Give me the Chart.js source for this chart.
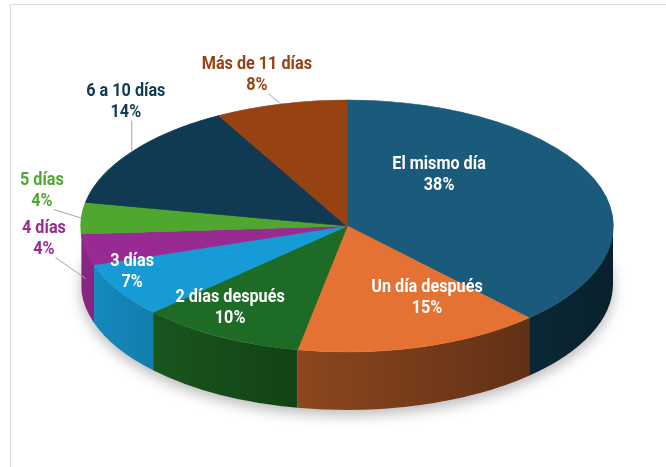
<!DOCTYPE html>
<html>
<head>
<meta charset="utf-8">
<script src="https://cdn.jsdelivr.net/npm/chart.js@4.4.1/dist/chart.umd.min.js"></script>
<style>
  html, body { margin: 0; padding: 0; background: #fff; }
  #wrap { width: 666px; height: 467px; }
</style>
</head>
<body>
<div id="wrap"><canvas id="myChart" width="666" height="467"></canvas></div>
<script>
// valores
var categories = ['El mismo día', 'Un día después', '2 días después', '3 días', '4 días', '5 días', '6 a 10 días', 'Más de 11 días'];
var shares = [38, 15, 10, 7, 4, 4, 14, 8];
var sliceColors = ['#1a5b7c', '#e47232', '#1e6b25', '#179bd6', '#982a92', '#4fa72f', '#0f3a52', '#974213'];

// dónde va cada etiqueta: [radio relativo, giro en grados]
var labelSpots = [[0.533, -27.9], [0.649, -11.4], [0.786, 5.2], [0.888, 6.1], [1.144, 5.6], [1.18, 10], [1.288, 13.8], [1.245, -1.4]];

var RX = 266, RY = 126, DEPTH = 58;
var FONT = 'bold 18px "Roboto", "Liberation Sans", sans-serif';
var SQUEEZE = 0.9;

function shade(hex, f) {
  var n = parseInt(hex.slice(1), 16);
  var r = Math.round(((n >> 16) & 255) * f);
  var g = Math.round(((n >> 8) & 255) * f);
  var b = Math.round((n & 255) * f);
  return 'rgb(' + r + ',' + g + ',' + b + ')';
}

function drawText(ctx, t, x, y) {
  ctx.save();
  ctx.translate(x, y);
  ctx.scale(SQUEEZE, 1);
  ctx.fillText(t, 0, 0);
  ctx.restore();
}

var pie3d = {
  id: 'pie3d',
  beforeDraw: function(chart) {
    var ctx = chart.ctx;
    ctx.save();
    ctx.fillStyle = '#fff';
    ctx.fillRect(0, 0, chart.width, chart.height);
    ctx.strokeStyle = '#dcdcdc';
    ctx.lineWidth = 1;
    ctx.beginPath();
    ctx.moveTo(10.5, chart.height);
    ctx.lineTo(10.5, 4.5);
    ctx.lineTo(chart.width, 4.5);
    ctx.stroke();
    ctx.restore();
  },
  beforeDatasetsDraw: function(chart) {
    var ctx = chart.ctx;
    var arcs = chart.getDatasetMeta(0).data;
    var cx = arcs[0].x, cy = arcs[0].y, r = arcs[0].outerRadius;
    var sx = RX / r, sy = RY / r;

    // sombra
    ctx.save();
    ctx.shadowColor = 'rgba(0,0,0,0.28)';
    ctx.shadowBlur = 14;
    ctx.shadowOffsetY = 5;
    ctx.fillStyle = '#fff';
    ctx.beginPath();
    ctx.ellipse(cx, cy + DEPTH, RX, RY, 0, 0, Math.PI * 2);
    ctx.fill();
    ctx.restore();

    // paredes laterales
    arcs.forEach(function(arc, i) {
      var a0 = Math.max(arc.startAngle, 0);
      var a1 = Math.min(arc.endAngle, Math.PI);
      if (a1 <= a0) return;
      var grad = ctx.createLinearGradient(cx - RX, 0, cx + RX, 0);
      grad.addColorStop(0, shade(sliceColors[i], 0.9));
      grad.addColorStop(0.4, shade(sliceColors[i], 0.62));
      grad.addColorStop(1, shade(sliceColors[i], 0.36));
      ctx.save();
      ctx.fillStyle = grad;
      ctx.beginPath();
      ctx.ellipse(cx, cy, RX, RY, 0, a0, a1, false);
      ctx.ellipse(cx, cy + DEPTH, RX, RY, 0, a1, a0, true);
      ctx.closePath();
      ctx.fill();
      ctx.restore();
    });

    ctx.save();
    ctx.translate(cx, cy);
    ctx.scale(sx, sy);
    ctx.translate(-cx, -cy);
  },
  afterDatasetsDraw: function(chart) {
    var ctx = chart.ctx;
    ctx.restore();

    var arcs = chart.getDatasetMeta(0).data;
    var total = shares.reduce(function(s, v) { return s + v; }, 0);
    ctx.save();
    ctx.font = FONT;
    ctx.textAlign = 'center';
    ctx.textBaseline = 'middle';
    arcs.forEach(function(arc, i) {
      var cx = arc.x, cy = arc.y;
      var mid = (arc.startAngle + arc.endAngle) / 2;
      var spot = labelSpots[i];
      var m = mid + spot[1] * Math.PI / 180;
      var lx = cx + RX * spot[0] * Math.cos(m);
      var ly = cy + RY * spot[0] * Math.sin(m);
      var lines = [categories[i], Math.round(shares[i] / total * 100) + '%'];
      var outside = spot[0] > 1;
      var ys = [ly - 10.5, ly + 10.5];

      if (outside) {
        // línea guía
        var ex = cx + RX * Math.cos(mid);
        var ey = cy + RY * Math.sin(mid) + (Math.sin(mid) > 0 ? DEPTH * 0.5 : 0);
        var best = null;
        lines.forEach(function(t, k) {
          var w = ctx.measureText(t).width * SQUEEZE;
          var px = Math.min(Math.max(ex, lx - w / 2), lx + w / 2 + 1);
          var py = Math.min(Math.max(ey, ys[k] - 8), ys[k] + 8);
          var d = Math.hypot(ex - px, ey - py);
          if (!best || d < best.d) best = { x: px, y: py, d: d };
        });
        ctx.strokeStyle = '#a6a6a6';
        ctx.lineWidth = 1;
        ctx.beginPath();
        ctx.moveTo(best.x, best.y);
        ctx.lineTo(ex, ey);
        ctx.stroke();
      }

      ctx.fillStyle = outside ? sliceColors[i] : '#ffffff';
      drawText(ctx, lines[0], lx, ys[0]);
      drawText(ctx, lines[1], lx, ys[1]);
    });
    ctx.restore();
  }
};

var ctx = document.getElementById('myChart').getContext('2d');
var myChart = new Chart(ctx, {
  type: 'pie',
  data: {
    labels: categories,
    datasets: [{
      data: shares,
      backgroundColor: sliceColors,
      borderColor: sliceColors,
      borderWidth: 1,
      clip: false
    }]
  },
  options: {
    responsive: false,
    animation: false,
    events: [],
    layout: {
      padding: { left: 147, right: 119, top: 26, bottom: 41 }
    },
    plugins: {
      legend: { display: false },
      tooltip: { enabled: false }
    }
  },
  plugins: [pie3d]
});
</script>
</body>
</html>
